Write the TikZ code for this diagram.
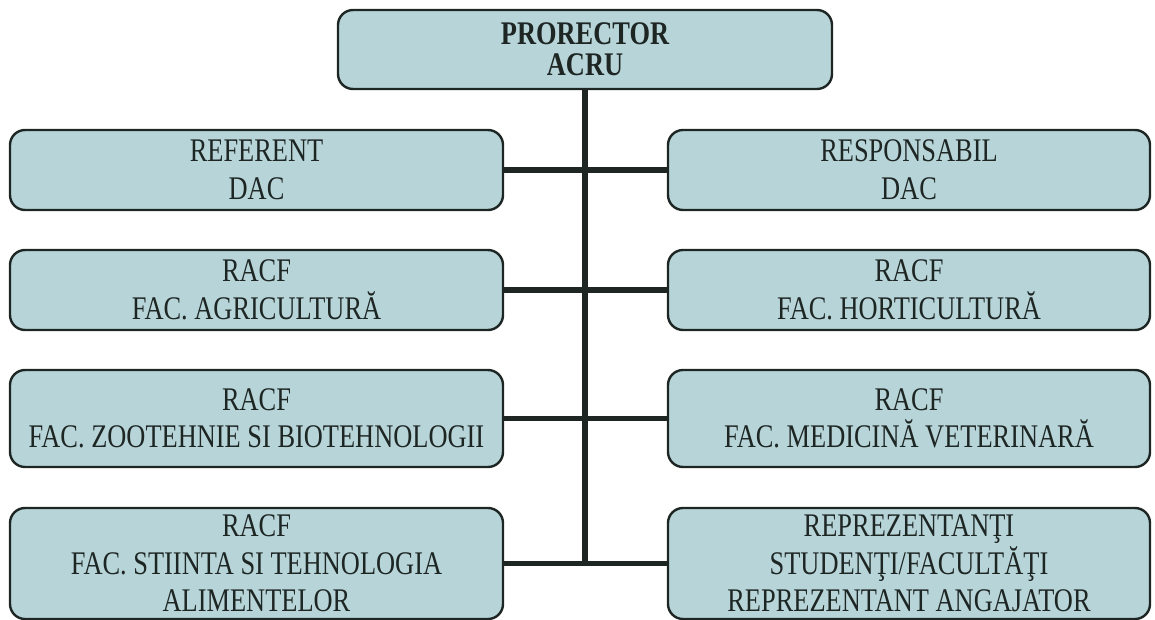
\documentclass[tikz,border=0pt]{standalone}
\usepackage{fontspec}
\setmainfont{Liberation Serif}[FakeStretch=0.8]
\definecolor{boxfill}{RGB}{183,213,217}
\definecolor{inkdark}{RGB}{30,38,36}

\begin{document}
\begin{tikzpicture}
[every node/.style={inner sep=0pt},
 unit/.style={rectangle, rounded corners=7.5pt, fill=boxfill, line width=1.2pt, draw=inkdark, text=inkdark, align=center, font=\fontsize{16.5}{18.8}\selectfont},
 trunk/.style={line width=2.8pt, color=inkdark}]
\useasboundingbox (0pt, 0pt) rectangle (577.5pt, -310pt);
\node (acru) [unit, minimum width=247pt, minimum height=39.5pt, font=\fontsize{16.5}{15.5}\selectfont\bfseries] at (292.5pt, -24.75pt) {PRORECTOR\\ACRU};
\node (ref) [unit, minimum width=246.5pt, minimum height=40pt] at (128.25pt, -85pt) {REFERENT\\DAC};
\node (resp) [unit, minimum width=241pt, minimum height=40pt] at (454.5pt, -85pt) {RESPONSABIL\\DAC};
\node (agr) [unit, minimum width=246.5pt, minimum height=40pt] at (128.25pt, -145pt) {RACF\\FAC. AGRICULTURĂ};
\node (hort) [unit, minimum width=241pt, minimum height=40pt] at (454.5pt, -145pt) {RACF\\FAC. HORTICULTURĂ};
\node (zoo) [unit, minimum width=246.5pt, minimum height=48.5pt] at (128.25pt, -209.25pt) {RACF\\FAC. ZOOTEHNIE SI BIOTEHNOLOGII};
\node (vet) [unit, minimum width=241pt, minimum height=48.5pt] at (454.5pt, -209.25pt) {RACF\\FAC. MEDICINĂ VETERINARĂ};
\node (alim) [unit, minimum width=246.5pt, minimum height=55.5pt] at (128.25pt, -281.75pt) {RACF\\FAC. STIINTA SI TEHNOLOGIA\\ALIMENTELOR};
\node (stud) [unit, minimum width=241pt, minimum height=55.5pt] at (454.5pt, -281.75pt) {REPREZENTANŢI\\STUDENŢI/FACULTĂŢI\\REPREZENTANT ANGAJATOR};
% trunk and branches
\draw [trunk] (acru.south) -- (acru.south |- alim.east);
\draw [trunk] (ref.east) -- (resp.west);
\draw [trunk] (agr.east) -- (hort.west);
\draw [trunk] (zoo.east) -- (vet.west);
\draw [trunk] (alim.east) -- (stud.west);
\end{tikzpicture}
\end{document}
